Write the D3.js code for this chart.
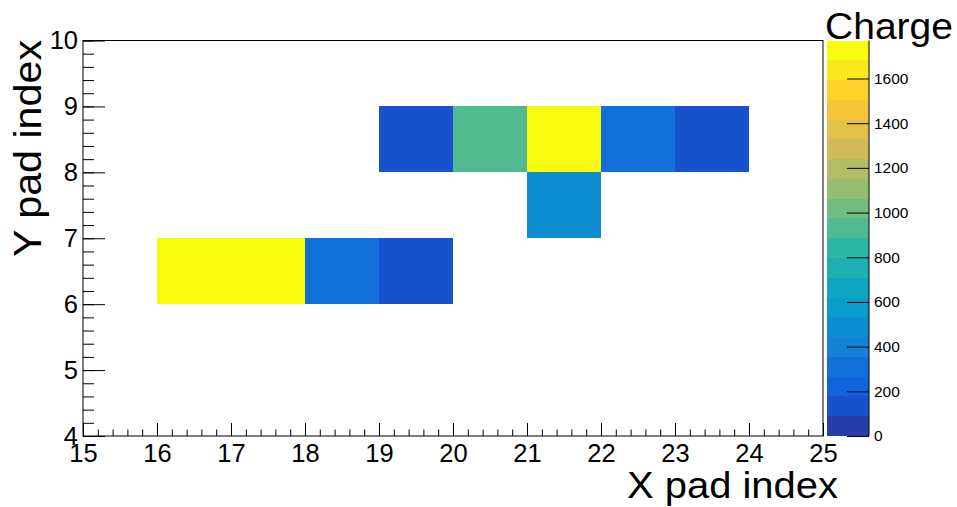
<!DOCTYPE html>
<html>
<head>
<meta charset="utf-8">
<script src="https://cdn.jsdelivr.net/npm/d3@7"></script>
<style>
  body { margin: 0; background: #fff; }
  svg { display: block; font-family: "Liberation Sans", Arial, sans-serif; }
</style>
</head>
<body>
<svg id="chart" width="957" height="507"></svg>
<script>
// Pad charge map: one cell per (x, y) pad index
const padX   = [16, 17, 18, 19, 19, 20, 21, 22, 23, 21];
const padY   = [ 6,  6,  6,  6,  8,  8,  8,  8,  8,  7];
const charge = [1720, 1740, 310, 130, 130, 930, 1770, 310, 140, 490];

const xTicks = [15, 16, 17, 18, 19, 20, 21, 22, 23, 24, 25];
const yTicks = [4, 5, 6, 7, 8, 9, 10];
const zTicks = [0, 200, 400, 600, 800, 1000, 1200, 1400, 1600];
const nLevels = 20;

// Bird palette stops
const birdStops = [0.0, 0.125, 0.25, 0.375, 0.5, 0.625, 0.75, 0.875, 1.0];
const birdR = [0.2082, 0.0592, 0.0780, 0.0232, 0.1802, 0.5301, 0.8186, 0.9956, 0.9764];
const birdG = [0.1664, 0.3599, 0.5041, 0.6419, 0.7178, 0.7492, 0.7328, 0.7862, 0.9832];
const birdB = [0.5293, 0.8684, 0.8385, 0.7914, 0.6425, 0.4662, 0.3499, 0.1968, 0.0539];

const svg = d3.select("#chart");
const plotLeft = 83, plotRight = 823, plotTop = 40.5, plotBottom = 436;

const x = d3.scaleLinear().domain([15, 25]).range([plotLeft, plotRight]);
const y = d3.scaleLinear().domain([4, 10]).range([plotBottom, plotTop]);
const zMax = d3.max(charge);
const z = d3.scaleLinear().domain([0, zMax]).range([plotBottom, plotTop]);

const bird = d3.scaleLinear()
  .domain(birdStops)
  .range(birdStops.map((_, i) => d3.rgb(birdR[i] * 255, birdG[i] * 255, birdB[i] * 255)))
  .interpolate(d3.interpolateRgb);

const nColors = 255;
const bandColor = i => bird(Math.floor((i + 0.99) * nColors / nLevels) / (nColors - 1));
const bandOf = v => Math.min(nLevels - 1, Math.floor(v / zMax * nLevels));

// Cells
const cells = padX.map((px, i) => ({ px, py: padY[i], v: charge[i] }));
svg.append("g").selectAll("rect").data(cells).join("rect")
  .attr("x", d => x(d.px))
  .attr("y", d => y(d.py + 1))
  .attr("width", d => x(d.px + 1) - x(d.px))
  .attr("height", d => y(d.py) - y(d.py + 1))
  .attr("fill", d => bandColor(bandOf(d.v)))
  .attr("shape-rendering", "crispEdges");

// Frame
svg.append("rect")
  .attr("x", plotLeft).attr("y", plotTop)
  .attr("width", plotRight - plotLeft).attr("height", plotBottom - plotTop)
  .attr("fill", "none").attr("stroke", "#000").attr("stroke-width", 1);

function styleAxis(g, fontSize) {
  g.select(".domain").remove();
  g.selectAll("line").attr("stroke", "#000");
  g.selectAll("text").attr("fill", "#000").style("font-size", fontSize + "px")
    .style("font-family", "'Liberation Sans', Arial, sans-serif");
}

// X axis: minor then major ticks
const xMinor = d3.range(15, 25.001, 0.2).map(v => +v.toFixed(2));
svg.append("g").attr("transform", `translate(0,${plotBottom})`)
  .call(d3.axisBottom(x).tickValues(xMinor).tickSize(-6.5).tickFormat(""))
  .call(g => styleAxis(g, 25));
svg.append("g").attr("transform", `translate(0,${plotBottom})`)
  .call(d3.axisBottom(x).tickValues(xTicks).tickSize(-13).tickPadding(8).tickFormat(d3.format("d")))
  .call(g => styleAxis(g, 25.5));

// Y axis
const yMinor = d3.range(4, 10.001, 0.2).map(v => +v.toFixed(2));
svg.append("g").attr("transform", `translate(${plotLeft},0)`)
  .call(d3.axisLeft(y).tickValues(yMinor).tickSize(-11).tickFormat(""))
  .call(g => styleAxis(g, 25));
svg.append("g").attr("transform", `translate(${plotLeft},0)`)
  .call(d3.axisLeft(y).tickValues(yTicks).tickSize(-22).tickPadding(5).tickFormat(d3.format("d")))
  .call(g => styleAxis(g, 25.5));

// Colour scale
const barX0 = 827, barX1 = 869;
const levels = d3.range(nLevels);
svg.append("g").selectAll("rect").data(levels).join("rect")
  .attr("x", barX0)
  .attr("y", i => z((i + 1) * zMax / nLevels))
  .attr("width", barX1 - barX0)
  .attr("height", i => z(i * zMax / nLevels) - z((i + 1) * zMax / nLevels))
  .attr("fill", i => bandColor(i))
  .attr("shape-rendering", "crispEdges");
svg.append("line")
  .attr("x1", barX1).attr("x2", barX1).attr("y1", plotTop).attr("y2", plotBottom)
  .attr("stroke", "#000");
svg.append("g").attr("transform", `translate(${barX1},0)`)
  .call(d3.axisRight(z).tickValues(zTicks).tickSize(-22).tickPadding(5).tickFormat(d3.format("d")))
  .call(g => styleAxis(g, 15.5));

// Titles
svg.append("text")
  .attr("x", 838).attr("y", 497.5)
  .attr("text-anchor", "end")
  .attr("textLength", 211).attr("lengthAdjust", "spacingAndGlyphs")
  .style("font-size", "37px")
  .text("X pad index");

svg.append("text")
  .attr("transform", "translate(41,40) rotate(-90)")
  .attr("text-anchor", "end")
  .attr("textLength", 217).attr("lengthAdjust", "spacingAndGlyphs")
  .style("font-size", "38px")
  .text("Y pad index");

svg.append("text")
  .attr("x", 825).attr("y", 39)
  .attr("textLength", 128).attr("lengthAdjust", "spacingAndGlyphs")
  .style("font-size", "37px")
  .text("Charge");
</script>
</body>
</html>
